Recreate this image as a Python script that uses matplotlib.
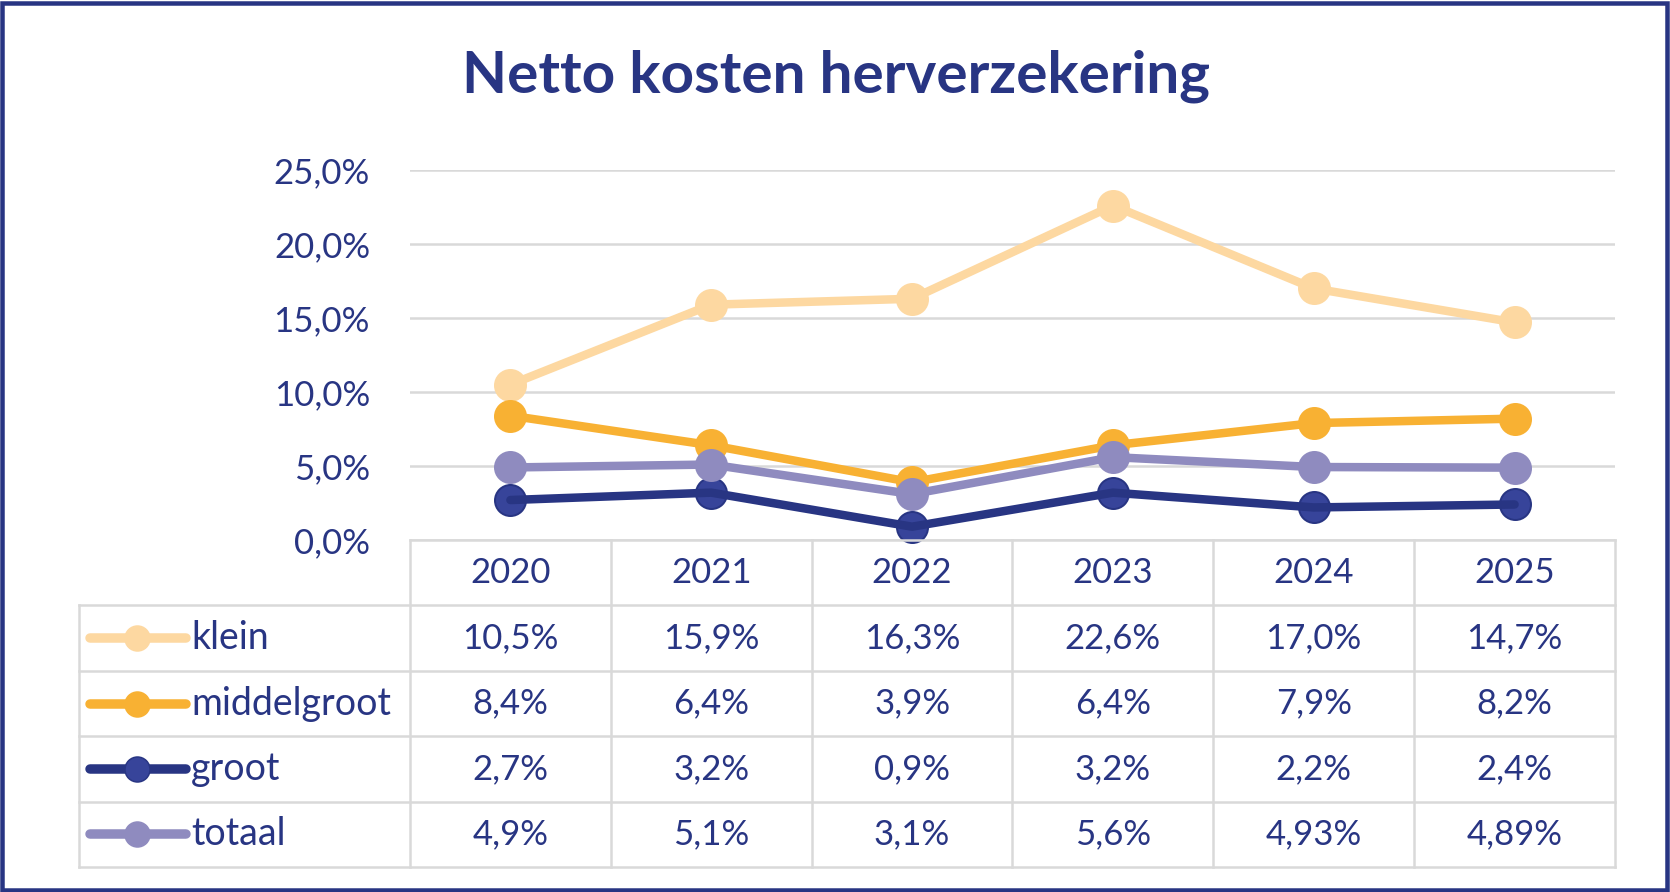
import matplotlib
matplotlib.use("Agg")
import matplotlib.pyplot as plt
from matplotlib.patches import Rectangle

# ---- data ----
years = ["2020", "2021", "2022", "2023", "2024", "2025"]
series_names = ["klein", "middelgroot", "groot", "totaal"]
klein = [10.5, 15.9, 16.3, 22.6, 17.0, 14.7]
middelgroot = [8.4, 6.4, 3.9, 6.4, 7.9, 8.2]
groot = [2.7, 3.2, 0.9, 3.2, 2.2, 2.4]
totaal = [4.9, 5.1, 3.1, 5.6, 4.93, 4.89]
table_klein = ["10,5%", "15,9%", "16,3%", "22,6%", "17,0%", "14,7%"]
table_middelgroot = ["8,4%", "6,4%", "3,9%", "6,4%", "7,9%", "8,2%"]
table_groot = ["2,7%", "3,2%", "0,9%", "3,2%", "2,2%", "2,4%"]
table_totaal = ["4,9%", "5,1%", "3,1%", "5,6%", "4,93%", "4,89%"]
y_ticks = [0, 5, 10, 15, 20, 25]
y_tick_labels = ["0,0%", "5,0%", "10,0%", "15,0%", "20,0%", "25,0%"]
title = "Netto kosten herverzekering"

values = [klein, middelgroot, groot, totaal]
table_rows = [table_klein, table_middelgroot, table_groot, table_totaal]

# ---- style ----
NAVY = "#283583"
GRID = "#D9D9D9"
colors = ["#FDD8A1", "#F8B133", "#283583", "#8F8BBF"]
marker_fill = ["#FDD8A1", "#F8B133", "#37449A", "#8F8BBF"]
FONT = "Lato"
plt.rcParams["font.family"] = [FONT, "DejaVu Sans"]

W, H = 1670, 892
fig = plt.figure(figsize=(W / 100, H / 100), dpi=100)
fig.patch.set_facecolor("white")

def px(v):
    return v * 72 / 100  # pixels -> points

# outer border
fig.patches.append(Rectangle((2 / W, 2 / H), 1 - 5 / W, 1 - 5 / H, transform=fig.transFigure,
                             fill=False, edgecolor=NAVY, linewidth=px(4.5), zorder=10))

fig.text(836 / W, 1 - 76 / H, title, ha="center", va="center", color=NAVY,
         fontsize=42, fontweight="bold")

# main plot axes
x_left, x_right = 410, 1615
y_top, y_bot = 170, 540
ax = fig.add_axes([x_left / W, 1 - y_bot / H, (x_right - x_left) / W, (y_bot - y_top) / H])
ax.set_xlim(-0.5, len(years) - 0.5)
ax.set_ylim(0, 25)
for s in ax.spines.values():
    s.set_visible(False)
ax.set_xticks([])
ax.set_yticks(y_ticks)
ax.set_yticklabels(y_tick_labels)
ax.tick_params(axis="y", length=0, pad=px(40), labelsize=25, labelcolor=NAVY)
for t in y_ticks:
    ax.axhline(t, color=GRID, lw=px(2.5), zorder=0)

xs = list(range(len(years)))
for i, (name, vals) in enumerate(zip(series_names, values)):
    z = 3 + i
    ax.plot(xs, vals, color=colors[i], lw=px(8.5), solid_capstyle="round",
            solid_joinstyle="round", zorder=z + 0.5 if name == "groot" else z, clip_on=False)
    ax.plot(xs, vals, linestyle="none", marker="o", markersize=px(31),
            markerfacecolor=marker_fill[i], markeredgecolor=colors[i],
            markeredgewidth=px(2), zorder=z, clip_on=False)

# data table axes
tbl_left, tbl_right, tbl_top, tbl_bot = 79, 1615, 540, 867
col_w = (x_right - x_left) / len(years)
x0 = -0.5 - (x_left - tbl_left) / col_w
tax = fig.add_axes([tbl_left / W, 1 - tbl_bot / H, (tbl_right - tbl_left) / W, (tbl_bot - tbl_top) / H])
tax.set_xlim(x0, len(years) - 0.5)
tax.set_ylim(5, 0)
tax.axis("off")
lw_t = px(2.5)
tax.plot([-0.5, len(years) - 0.5], [0, 0], color=GRID, lw=lw_t, clip_on=False)
for r in range(1, 6):
    tax.plot([x0, len(years) - 0.5], [r, r], color=GRID, lw=lw_t, clip_on=False)
tax.plot([x0, x0], [1, 5], color=GRID, lw=lw_t, clip_on=False)
for k in range(len(years) + 1):
    tax.plot([k - 0.5, k - 0.5], [0, 5], color=GRID, lw=lw_t, clip_on=False)

for i, y in enumerate(years):
    tax.text(i, 0.5, y, ha="center", va="center", fontsize=25, color=NAVY)
for r, (name, row) in enumerate(zip(series_names, table_rows)):
    yc = r + 1.5
    for i, v in enumerate(row):
        tax.text(i, yc, v, ha="center", va="center", fontsize=25, color=NAVY)
    lx0 = x0 + (90 - tbl_left) / col_w
    lx1 = x0 + (186 - tbl_left) / col_w
    mx = x0 + (137 - tbl_left) / col_w
    tax.plot([lx0, lx1], [yc, yc], color=colors[r], lw=px(9.5), solid_capstyle="round")
    tax.plot([mx], [yc], linestyle="none", marker="o", markersize=px(25),
             markerfacecolor=marker_fill[r], markeredgecolor=colors[r], markeredgewidth=px(1.5))
    tax.text(x0 + (191 - tbl_left) / col_w, yc, name, ha="left", va="center",
             fontsize=27, color=NAVY)

fig.savefig("out.png", dpi=100, facecolor="white")
